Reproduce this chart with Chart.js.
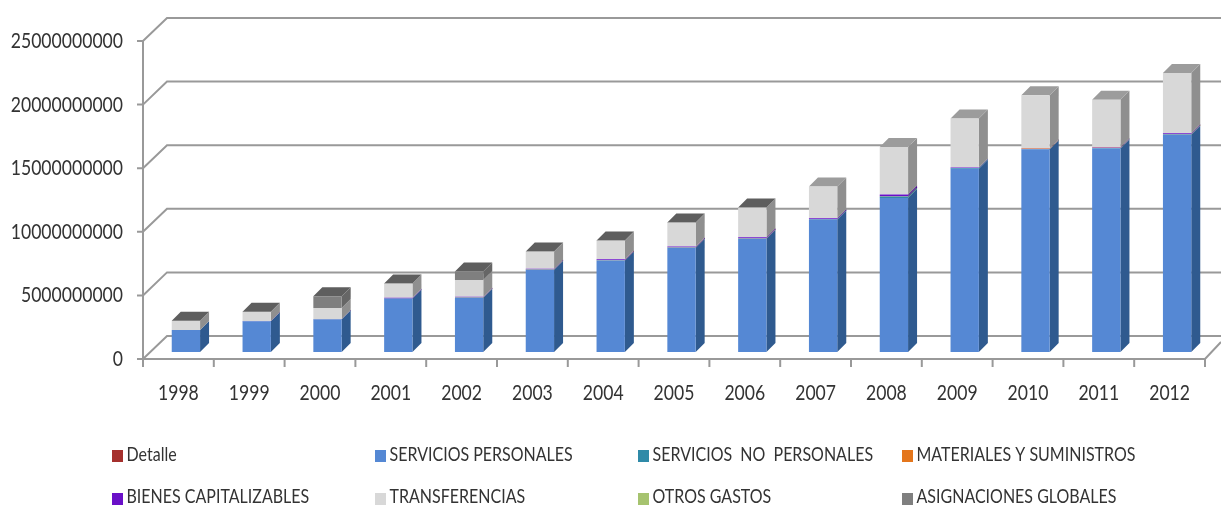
<!DOCTYPE html>
<html>
<head>
<meta charset="utf-8">
<title>Gastos por objeto 1998-2012</title>
<script src="https://cdn.jsdelivr.net/npm/chart.js@4"></script>
<style>
	html, body { margin: 0; padding: 0; background: #fff; }
	#wrap { position: relative; width: 1221px; height: 508px; }
	canvas { filter: blur(0.5px); }
</style>
</head>
<body>
<div id="wrap"><canvas id="chart-block"></canvas></div>
<script>
const years = ['1998','1999','2000','2001','2002','2003','2004','2005','2006','2007','2008','2009','2010','2011','2012'];
const yTicks = [0, 5000000000, 10000000000, 15000000000, 20000000000, 25000000000];

// valores, en miles de millones
const detalle        = [0,0,0,0,0,0,0,0,0,0,0,0,0,0,0];
const personales     = [1.72,2.41,2.56,4.19,4.27,6.47,7.20,8.20,8.90,10.40,12.11,14.40,15.93,16.00,17.07];
const noPersonales   = [0.01,0.01,0.01,0.02,0.02,0.02,0.02,0.02,0.03,0.03,0.12,0.06,0.03,0.04,0.05];
const materiales     = [0,0,0,0,0.01,0.01,0.01,0.01,0.01,0.01,0.01,0.01,0.04,0.01,0.01];
const bienes         = [0,0.01,0.02,0.06,0.05,0.05,0.06,0.06,0.08,0.08,0.14,0.03,0.02,0.05,0.07];
const transferencias = [0.71,0.72,0.87,1.10,1.32,1.33,1.45,1.87,2.32,2.50,3.74,3.85,4.16,3.74,4.74];
const otrosGastos    = [0,0,0,0,0,0,0,0,0,0,0,0,0,0,0];
const asignaciones   = [0.02,0.02,0.93,0.02,0.66,0.02,0.02,0.02,0.02,0,0,0,0,0,0];

const seriesNames = ['Detalle','SERVICIOS PERSONALES','SERVICIOS  NO  PERSONALES','MATERIALES Y SUMINISTROS','BIENES CAPITALIZABLES','TRANSFERENCIAS','OTROS GASTOS','ASIGNACIONES GLOBALES'];
const seriesValues = [detalle, personales, noPersonales, materiales, bienes, transferencias, otrosGastos, asignaciones];
const frontColors = ['#a5302d','#5588d4','#2f8aa8','#e4761c','#6a10c8','#d8d8d8','#a6c36f','#7f7f7f'];
const sideColors  = ['#7a2220','#2f5a8f','#21667c','#a85410','#4a0a90','#8f8f8f','#7a9050','#666666'];
const topColors   = ['#8a2624','#3f6ea8','#27748c','#c06414','#5a0cb0','#9c9c9c','#8ca85c','#5e5e5e'];

const FONT = 'Lato, "Liberation Sans", sans-serif';
const GRID = '#999999';
const TEXT = '#333333';
// profundidad: del plano de las barras al frente del piso y a la pared del fondo
const frontDx = -7.5, frontDy = 7, backDx = 16.5, backDy = -16;
const barDepth = 9;

// texto angosto: no hay Calibri, se comprime en horizontal
function narrowText(ctx, text, x, y, squeeze, align) {
	ctx.save();
	ctx.translate(x, y);
	ctx.scale(squeeze, 1);
	ctx.textAlign = align;
	ctx.fillText(text, 0, 0);
	ctx.restore();
}

// pared, piso y rejilla en falso 3D
const wallPlugin = {
	id: 'wall',
	beforeDatasetsDraw(chart) {
		let ctx = chart.ctx, y = chart.scales.y, x = chart.scales.x;
		let fx = chart.chartArea.left + frontDx, fr = chart.chartArea.right + frontDx;
		ctx.save();
		ctx.strokeStyle = GRID;
		ctx.lineWidth = 2;
		ctx.beginPath();
		yTicks.forEach((t) => {
			let py = y.getPixelForValue(t);
			ctx.moveTo(fx - 6, py + frontDy);
			ctx.lineTo(fx, py + frontDy);
			ctx.lineTo(chart.chartArea.left + backDx, py + backDy);
			ctx.lineTo(chart.width, py + backDy);
		});
		let base = y.getPixelForValue(0) + frontDy;
		ctx.moveTo(fx, y.getPixelForValue(yTicks[yTicks.length - 1]) + frontDy);
		ctx.lineTo(fx, base + 8);
		ctx.moveTo(fx, base);
		ctx.lineTo(fr, base);
		ctx.lineTo(chart.width, base - 17);
		years.forEach((yr, i) => {
			let tx = x.getPixelForValue(i) + x.width / years.length / 2 + frontDx;
			ctx.moveTo(tx, base);
			ctx.lineTo(tx, base + 8);
		});
		ctx.stroke();

		// caras laterales y tapa de cada barra
		years.forEach((yr, i) => {
			let topIdx = -1;
			chart.data.datasets.forEach((ds, d) => {
				if (ds.data[i] <= 0) return;
				let el = chart.getDatasetMeta(d).data[i];
				let r = el.x + el.width / 2;
				ctx.fillStyle = sideColors[d];
				ctx.beginPath();
				ctx.moveTo(r, el.y);
				ctx.lineTo(r + barDepth, el.y - barDepth);
				ctx.lineTo(r + barDepth, el.base - barDepth);
				ctx.lineTo(r, el.base);
				ctx.closePath();
				ctx.fill();
				topIdx = d;
			});
			if (topIdx < 0) return;
			let el = chart.getDatasetMeta(topIdx).data[i];
			let l = el.x - el.width / 2, r = el.x + el.width / 2;
			ctx.fillStyle = topColors[topIdx];
			ctx.beginPath();
			ctx.moveTo(l, el.y);
			ctx.lineTo(l + barDepth, el.y - barDepth);
			ctx.lineTo(r + barDepth, el.y - barDepth);
			ctx.lineTo(r, el.y);
			ctx.closePath();
			ctx.fill();
		});
		ctx.restore();
	}
};

// etiquetas de ejes y leyenda en cuatro columnas, como en el original
const legendColumns = [112, 375, 638, 902];
const legendRows = [456, 499];
const labelPlugin = {
	id: 'labels',
	afterDraw(chart) {
		let ctx = chart.ctx, y = chart.scales.y, x = chart.scales.x;
		ctx.save();
		ctx.fillStyle = TEXT;
		ctx.textBaseline = 'middle';
		ctx.font = '22px ' + FONT;
		y.ticks.forEach((t) => {
			narrowText(ctx, t.label, 123, y.getPixelForValue(t.value) + frontDy, 0.8, 'right');
		});
		x.ticks.forEach((t, i) => {
			narrowText(ctx, t.label, x.getPixelForValue(i) + frontDx, 393, 0.8, 'center');
		});
		ctx.font = '20px ' + FONT;
		chart.data.datasets.forEach((ds, i) => {
			let row = Math.floor(i / 4);
			let cx = legendColumns[i % 4], cy = legendRows[row];
			ctx.fillStyle = ds.backgroundColor;
			ctx.fillRect(cx, cy - 6, 11, 12);
			ctx.fillStyle = TEXT;
			narrowText(ctx, ds.label, cx + 14.5, cy - 1 - row, 0.8, 'left');
		});
		ctx.restore();
	}
};

const datasets = seriesNames.map((name, i) => ({
	label: name,
	data: seriesValues[i].map((v) => v * 1000000000),
	backgroundColor: frontColors[i],
	borderWidth: 0,
	categoryPercentage: 1,
	barPercentage: 0.4
}));

let ctx = document.getElementById('chart-block').getContext('2d');
let metChart = new Chart(ctx, {
	type: 'bar',
	data: { labels: years, datasets: datasets },
	plugins: [wallPlugin, labelPlugin],
	options: {
		responsive: true,
		maintainAspectRatio: false,
		animation: false,
		layout: { padding: { top: 34, right: 8.5, bottom: 0, left: 0 } },
		plugins: { legend: { display: false }, title: { display: false }, tooltip: { enabled: false } },
		scales: {
			x: {
				stacked: true,
				border: { display: false },
				grid: { display: false, drawTicks: false },
				ticks: { display: false, autoSkip: false },
				afterFit(scale) { scale.height = 156; }
			},
			y: {
				stacked: true,
				min: 0,
				max: 25000000000,
				border: { display: false },
				grid: { display: false, drawTicks: false },
				afterBuildTicks(scale) { scale.ticks = yTicks.map((v) => ({ value: v })); },
				ticks: { display: false, callback: (v) => String(v) },
				afterFit(scale) { scale.width = 150.5; }
			}
		}
	}
});
</script>
</body>
</html>
